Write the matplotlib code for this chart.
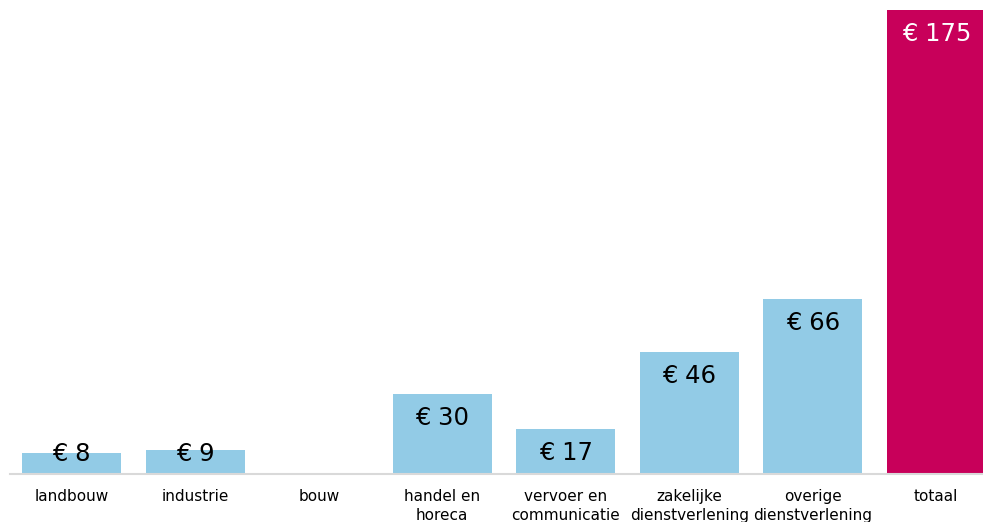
import numpy as np
import matplotlib
matplotlib.use("Agg")
import matplotlib.pyplot as plt

categories = ["landbouw", "industrie", "bouw", "handel en\nhoreca", "vervoer en\ncommunicatie",
              "zakelijke\ndienstverlening", "overige\ndienstverlening", "totaal"]
values = [8, 9, np.nan, 30, 17, 46, 66, 175]
colors = ["#92CBE6"] * 7 + ["#C8005A"]
text_colors = ["black"] * 7 + ["white"]

W, H = 983, 522
fig = plt.figure(figsize=(W / 100, H / 100), dpi=100)
left_px, right_px, top_px, base_px = 10, 983, 10, 474
ax = fig.add_axes([left_px / W, 1 - base_px / H, (right_px - left_px) / W, (base_px - top_px) / H])

x = np.arange(len(categories))
vals = np.array(values, dtype=float)
mask = ~np.isnan(vals)
ax.bar(x[mask], vals[mask], width=0.8, color=[c for c, m in zip(colors, mask) if m], zorder=2)

slot = 123.5
ax.set_xlim(-0.5, -0.5 + (right_px - left_px) / slot)
ax.set_ylim(0, 175)

pad = 24 / (base_px - top_px) * 175
for xi, v, tc in zip(x, vals, text_colors):
    if np.isnan(v):
        continue
    y = max(v - pad, 7.5)
    ax.text(xi, y, f"€ {v:g}", ha="center", va="center", fontsize=17.5, color=tc, zorder=3)

for s in ["top", "right", "left"]:
    ax.spines[s].set_visible(False)
ax.spines["bottom"].set_color("#d9d9d9")
ax.spines["bottom"].set_linewidth(1.5)
ax.set_yticks([])
ax.set_xticks(x)
ax.set_xticklabels(categories, fontsize=11, linespacing=1.3)
ax.tick_params(axis="x", length=0, pad=11)

fig.savefig("out.png", dpi=100)
